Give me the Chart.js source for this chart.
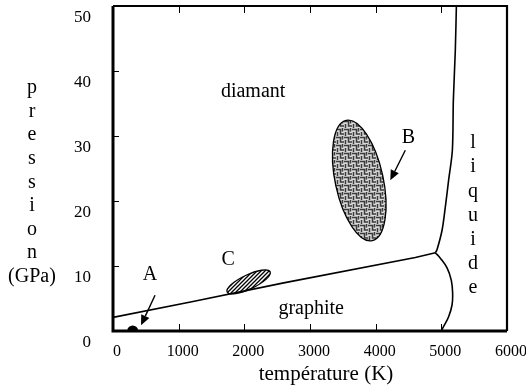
<!DOCTYPE html>
<html><head><meta charset="utf-8">
<script src="https://cdn.jsdelivr.net/npm/chart.js@4/dist/chart.umd.min.js"></script>
<style>html,body{margin:0;padding:0;background:#fff}#wrap{width:526px;height:386px}</style>
</head><body><div id="wrap"><canvas id="c" width="526" height="386"></canvas></div>
<script>
// ---- data ----
const temperatureTicks = [0, 1000, 2000, 3000, 4000, 5000, 6000];
const pressureTicks = [0, 10, 20, 30, 40, 50];

const graphiteDiamondT = [0, 1200, 2600, 4604, 4909];
const graphiteDiamondP = [2.1, 4.5, 7.4, 11.3, 12.05];

const diamondLiquidT = [4909, 4934, 5011, 5061, 5111, 5168, 5183, 5213, 5229];
const diamondLiquidP = [12.05, 12.5, 15.5, 19.1, 23.2, 27.8, 35.5, 43.2, 50];

const graphiteLiquidT = [4909, 4985, 5087, 5152, 5172, 5163, 5111, 5035, 5000];
const graphiteLiquidP = [12.05, 11.2, 9.7, 7.8, 5.8, 4.0, 2.2, 0.7, 0];

const ambientT = [300];
const ambientP = [0];

// regions B and C: ends of the long axis (T, P) and width / length ratio
const regionNames = ['B', 'C'];
const regionStartT = [3552, 1738];
const regionStartP = [32.4, 6.0];
const regionEndT = [3948, 2393];
const regionEndP = [13.9, 9.1];
const regionRatio = [0.39, 0.30];

// arrows (from -> to) for A and B
const arrowFromT = [640, 4451];
const arrowFromP = [5.5, 27.8];
const arrowToT = [427, 4223];
const arrowToP = [0.9, 23.2];

// annotation texts
const labelTexts = ['diamant', 'graphite', 'A', 'B', 'C'];
const labelT = [2134, 3018, 564, 4497, 1753];
const labelP = [36.8, 3.4, 8.6, 29.8, 10.9];

const liquidLetters = ['l', 'i', 'q', 'u', 'i', 'd', 'e'];
const yTitleLetters = ['p', 'r', 'e', 's', 's', 'i', 'o', 'n', '(GPa)'];
const xTitle = 'température (K)';

const toXY = (ts, ps) => ts.map((t, i) => ({x: t, y: ps[i]}));
const SERIF = '"Liberation Serif", "DejaVu Serif", serif';

function makeWeave() {
  const c = document.createElement('canvas');
  c.width = 8; c.height = 8;
  const g = c.getContext('2d');
  g.fillStyle = '#d8d8d8'; g.fillRect(0, 0, 8, 8);
  g.strokeStyle = '#3a3a3a'; g.lineWidth = 1.5;
  g.beginPath();
  g.moveTo(0, 1.5); g.lineTo(4.5, 1.5); g.lineTo(4.5, 6); g.lineTo(8, 6);
  g.moveTo(1.5, 8); g.lineTo(1.5, 4); g.moveTo(6.5, 3.5); g.lineTo(6.5, 0);
  g.stroke();
  return c;
}
function makeHatch() {
  const c = document.createElement('canvas');
  c.width = 4; c.height = 4;
  const g = c.getContext('2d');
  g.fillStyle = '#ffffff'; g.fillRect(0, 0, 4, 4);
  g.strokeStyle = '#000'; g.lineWidth = 1.3;
  g.beginPath();
  g.moveTo(-1, 5); g.lineTo(5, -1);
  g.moveTo(-1, 1); g.lineTo(1, -1);
  g.moveTo(3, 5); g.lineTo(5, 3);
  g.stroke();
  return c;
}

const overlay = {
  id: 'overlay',
  beforeDatasetsDraw(chart) {
    const {ctx, scales: {x, y}} = chart;
    const fills = [ctx.createPattern(makeWeave(), 'repeat'), ctx.createPattern(makeHatch(), 'repeat')];
    regionNames.forEach((n, i) => {
      const x1 = x.getPixelForValue(regionStartT[i]), y1 = y.getPixelForValue(regionStartP[i]);
      const x2 = x.getPixelForValue(regionEndT[i]), y2 = y.getPixelForValue(regionEndP[i]);
      const cx = (x1 + x2) / 2, cy = (y1 + y2) / 2;
      const a = Math.hypot(x2 - x1, y2 - y1) / 2;
      const ang = Math.atan2(y2 - y1, x2 - x1);
      ctx.save();
      ctx.beginPath();
      ctx.ellipse(cx, cy, a, a * regionRatio[i], ang, 0, Math.PI * 2);
      ctx.fillStyle = fills[i];
      ctx.fill();
      ctx.lineWidth = 1.3; ctx.strokeStyle = '#000';
      ctx.stroke();
      ctx.restore();
    });
  },
  afterDatasetsDraw(chart) {
    const {ctx, chartArea: ca, scales: {x, y}} = chart;
    ctx.save();
    // frame
    ctx.strokeStyle = '#000';
    ctx.lineWidth = 3;
    ctx.beginPath();
    ctx.moveTo(ca.left, ca.top); ctx.lineTo(ca.left, ca.bottom); ctx.lineTo(ca.right, ca.bottom);
    ctx.stroke();
    ctx.lineWidth = 2.2;
    ctx.beginPath();
    ctx.moveTo(ca.left, ca.top); ctx.lineTo(ca.right, ca.top); ctx.lineTo(ca.right, ca.bottom);
    ctx.stroke();
    // inward ticks
    ctx.lineWidth = 1;
    ctx.beginPath();
    temperatureTicks.slice(1, -1).forEach(t => {
      const px = Math.round(x.getPixelForValue(t)) + 0.5;
      ctx.moveTo(px, ca.bottom); ctx.lineTo(px, ca.bottom - 7);
      ctx.moveTo(px, ca.top); ctx.lineTo(px, ca.top + 7);
    });
    pressureTicks.slice(1, -1).forEach(p => {
      const py = Math.round(y.getPixelForValue(p)) + 0.5;
      ctx.moveTo(ca.left, py); ctx.lineTo(ca.left + 6, py);
    });
    ctx.stroke();
    // arrows
    arrowFromT.forEach((t, i) => {
      const x1 = x.getPixelForValue(t), y1 = y.getPixelForValue(arrowFromP[i]);
      const x2 = x.getPixelForValue(arrowToT[i]), y2 = y.getPixelForValue(arrowToP[i]);
      const ang = Math.atan2(y2 - y1, x2 - x1);
      const hl = 10, hw = 4.5;
      const bx = x2 - hl * Math.cos(ang), by = y2 - hl * Math.sin(ang);
      ctx.lineWidth = 1.4;
      ctx.beginPath(); ctx.moveTo(x1, y1); ctx.lineTo(bx, by); ctx.stroke();
      ctx.beginPath();
      ctx.moveTo(x2, y2);
      ctx.lineTo(bx + hw * Math.sin(ang), by - hw * Math.cos(ang));
      ctx.lineTo(bx - hw * Math.sin(ang), by + hw * Math.cos(ang));
      ctx.closePath();
      ctx.fillStyle = '#000'; ctx.fill();
    });
    // labels
    ctx.fillStyle = '#000';
    ctx.textAlign = 'center';
    ctx.textBaseline = 'middle';
    ctx.font = '20px ' + SERIF;
    labelTexts.forEach((s, i) => {
      ctx.fillText(s, x.getPixelForValue(labelT[i]), y.getPixelForValue(labelP[i]));
    });
    liquidLetters.forEach((s, i) => ctx.fillText(s, 473, 143 + i * 24.2));
    yTitleLetters.forEach((s, i) => ctx.fillText(s, 32, 88 + i * 23.6));
    ctx.font = '21px ' + SERIF;
    ctx.fillText(xTitle, 326, 374);
    ctx.restore();
  }
};

const lineStyle = {showLine: true, borderColor: '#000', borderWidth: 1.6, pointRadius: 0, fill: false};
const noPad = s => { s.paddingTop = 0; s.paddingBottom = 0; s.paddingLeft = 0; s.paddingRight = 0; };

new Chart(document.getElementById('c'), {
  type: 'scatter',
  data: {
    datasets: [
      Object.assign({label: 'graphite/diamant', data: toXY(graphiteDiamondT, graphiteDiamondP), tension: 0}, lineStyle),
      Object.assign({label: 'diamant/liquide', data: toXY(diamondLiquidT, diamondLiquidP), tension: 0.3}, lineStyle),
      Object.assign({label: 'graphite/liquide', data: toXY(graphiteLiquidT, graphiteLiquidP), tension: 0.4}, lineStyle),
      {label: 'A', data: toXY(ambientT, ambientP), showLine: false, pointRadius: 5.5,
       pointBackgroundColor: '#000', pointBorderColor: '#000', pointBorderWidth: 0}
    ]
  },
  options: {
    responsive: false,
    animation: false,
    devicePixelRatio: 1,
    layout: {padding: {top: 6, right: 19, left: 0, bottom: 0}},
    plugins: {legend: {display: false}, tooltip: {enabled: false}},
    scales: {
      x: {
        type: 'linear', min: 0, max: 6000,
        afterBuildTicks: s => { s.ticks = temperatureTicks.map(v => ({value: v})); },
        afterFit: s => { s.height = 55; noPad(s); },
        grid: {display: false, drawTicks: false},
        border: {display: false},
        ticks: {color: '#000', font: {family: SERIF, size: 16}, padding: 11, labelOffset: 4,
                maxRotation: 0, autoSkip: false, callback: v => String(v)}
      },
      y: {
        type: 'linear', min: 0, max: 50,
        afterBuildTicks: s => { s.ticks = pressureTicks.map(v => ({value: v})); },
        afterFit: s => { s.width = 113; noPad(s); },
        grid: {display: false, drawTicks: false},
        border: {display: false},
        ticks: {color: '#000', font: {family: SERIF, size: 17}, padding: 22, labelOffset: 12,
                autoSkip: false, callback: v => String(v)}
      }
    }
  },
  plugins: [overlay]
});
</script>
</body></html>
